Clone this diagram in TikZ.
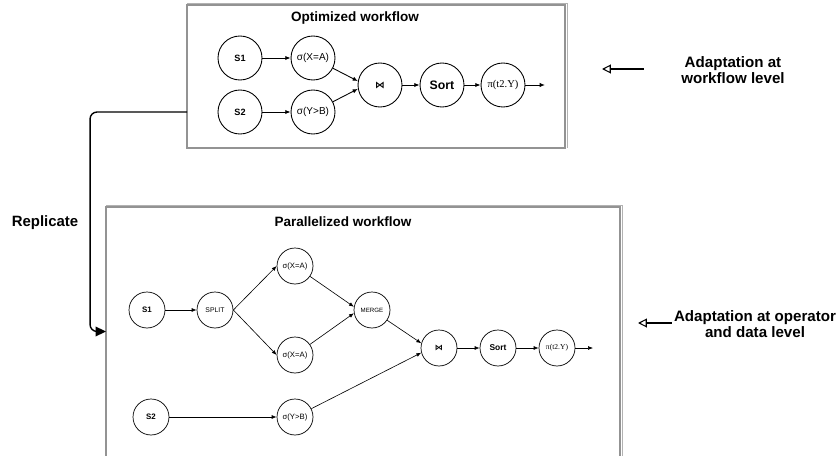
\documentclass[tikz,border=0pt]{standalone}
\usepackage{fontspec}
\setmainfont{Liberation Sans}
\newfontfamily\projfont{Liberation Serif}
\newfontfamily\symfont{DejaVu Sans}
\usetikzlibrary{arrows.meta}

\tikzset{
  frame/.style={draw=gray!85, line width=0.8pt},
  frameedge/.style={draw=gray!60, line width=0.5pt},
  opbig/.style={circle, draw, line width=0.5pt, minimum size=0.88cm, inner sep=0pt,
    font=\fontsize{5.7}{7}\selectfont},
  opsmall/.style={circle, draw, line width=0.4pt, minimum size=0.72cm, inner sep=0pt,
    font=\fontsize{4.4}{5}\selectfont},
  flow/.style={-{Latex[length=3pt,width=2.4pt]}, line width=0.5pt},
  flowthin/.style={-{Latex[length=2.8pt,width=2.2pt]}, line width=0.35pt},
  replic/.style={-{Triangle[length=6pt,width=5.5pt]}, line width=0.8pt, rounded corners=4pt},
  adapt/.style={{Triangle[open,length=5pt,width=5pt]}-, line width=0.6pt},
  sidelabel/.style={font=\bfseries\fontsize{8.6}{9}\selectfont, align=center, inner sep=1pt},
  boxtitle/.style={font=\bfseries\fontsize{7.7}{9}\selectfont}
}

\begin{document}
\begin{tikzpicture}[x=0.02cm, y=-0.02cm]
\useasboundingbox (0,0) rectangle (838,456);

% Draw the two workflow boxes.
\node[frame, inner sep=0pt, outer sep=0pt, minimum width=7.56cm, minimum height=2.86cm]
  (optbox) at (376,76.5) {};
\draw[frameedge] ([shift={(0,-2)}]optbox.north west) -| ([shift={(2,0)}]optbox.south east);
\node[inner sep=0pt, outer sep=0pt, minimum width=10.28cm, minimum height=4.98cm]
  (parbox) at (363,331.5) {};
\draw[frame] (parbox.south west) -- (parbox.north west) -- (parbox.north east) -- (parbox.south east);
\draw[frameedge] ([shift={(0,-2)}]parbox.north west) -| ([shift={(2.5,0)}]parbox.south east);

\node[boxtitle] (opttitle) at (355,18) {Optimized workflow};
\node[boxtitle] (partitle) at (343,222) {Parallelized workflow};

% Optimized workflow.
\node[opbig, font=\bfseries\fontsize{5.2}{6}\selectfont] (s1) at (240,58) {S1};
\node[opbig, font=\bfseries\fontsize{5.2}{6}\selectfont] (s2) at (240,112) {S2};
\node[opbig] (selx) at (313,58) {σ(X=A)};
\node[opbig] (sely) at (313,112) {σ(Y>B)};
\node[opbig, font=\symfont\bfseries\fontsize{5.5}{6}\selectfont] (join) at (380,85) {⋈};
\node[opbig, font=\bfseries\fontsize{7}{8}\selectfont] (sort) at (442,85) {Sort};
\node[opbig, font=\projfont\fontsize{6}{7}\selectfont] (proj) at (503,85) {π(t2.Y)};
\coordinate (optout) at (545,85);

\draw[flow] (s1) -- (selx);
\draw[flow] (s2) -- (sely);
\draw[flow] (selx) -- (join.170);
\draw[flow] (sely) -- (join.190);
\draw[flow] (join) -- (sort);
\draw[flow] (sort) -- (proj);
\draw[flow] (proj) -- (optout);

% Parallelized workflow.
\node[opsmall, font=\bfseries\fontsize{4.5}{5}\selectfont] (ps1) at (147,310) {S1};
\node[opsmall, font=\fontsize{3.9}{5}\selectfont] (split) at (215,310) {SPLIT};
\node[opsmall] (pselxa) at (295,266) {σ(X=A)};
\node[opsmall] (pselxb) at (295,355) {σ(X=A)};
\node[opsmall, font=\fontsize{3.5}{5}\selectfont] (merge) at (372,310) {MERGE};
\node[opsmall, font=\bfseries\fontsize{4.5}{5}\selectfont] (ps2) at (151,417) {S2};
\node[opsmall] (psely) at (295,417) {σ(Y>B)};
\node[opsmall, font=\symfont\bfseries\fontsize{4.6}{5}\selectfont] (pjoin) at (439,348) {⋈};
\node[opsmall, font=\bfseries\fontsize{4.8}{5}\selectfont] (psort) at (498,348) {Sort};
\node[opsmall, font=\projfont\fontsize{4.3}{5}\selectfont] (pproj) at (557,348) {π(t2.Y)};
\coordinate (parout) at (593,348);

\draw[flowthin] (ps1) -- (split);
\draw[flowthin] (split.east) -- (pselxa.west);
\draw[flowthin] (split.east) -- (pselxb.west);
\draw[flowthin] (pselxa) -- (merge.170);
\draw[flowthin] (pselxb) -- (merge.190);
\draw[flowthin] (ps2) -- (psely);
\draw[flowthin] (merge) -- (pjoin.165);
\draw[flowthin] (psely) -- (pjoin.195);
\draw[flowthin] (pjoin) -- (psort);
\draw[flowthin] (psort) -- (pproj);
\draw[flowthin] (pproj) -- (parout);

% Replication arrow.
\node[font=\bfseries\fontsize{8.5}{9}\selectfont] (replicate) at (45,223) {Replicate};
\path (parbox.west) ++(-16,0) coordinate (bend);
\draw[replic] (optbox.west |- s2) -| (bend) -- (parbox.west);

% Adaptation labels.
\node[sidelabel] (adaptwf) at (733,70) {Adaptation at\\workflow level};
\coordinate (tipwf) at (602,69);
\draw[adapt] (tipwf) -- ([xshift=-20]adaptwf.west |- tipwf);
\node[sidelabel] (adaptop) at (755,324) {Adaptation at operator\\and data level};
\coordinate (tipop) at (638,323);
\draw[adapt] (tipop) -- (adaptop.west |- tipop);
\end{tikzpicture}
\end{document}
